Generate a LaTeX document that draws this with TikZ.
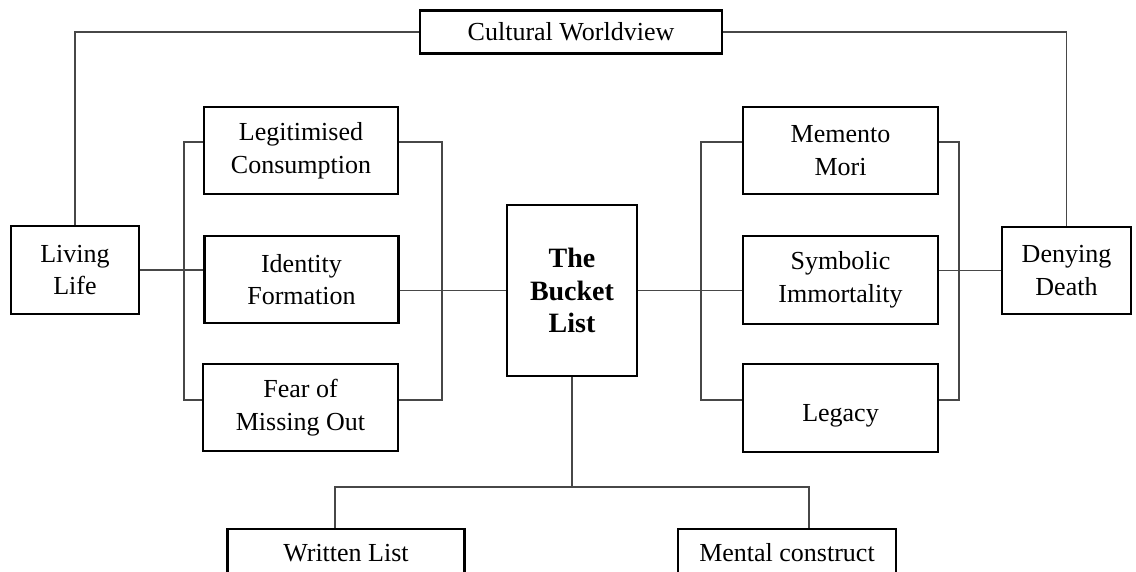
\documentclass[tikz,border=0pt]{standalone}
\usepackage{fontspec}
\setmainfont{Liberation Serif}
\begin{document}
\begin{tikzpicture}[x=1pt,y=-1pt,
  box/.style={draw=black,line width=2.1pt,inner sep=0pt,align=center,
    font=\fontsize{26}{32.5}\selectfont},
  hub/.style={box,font=\fontsize{28}{32.5}\selectfont\bfseries},
  link/.style={draw=black!72,line width=1.1pt}]
\useasboundingbox (0,0) rectangle (1136,572);
\clip (0,0) rectangle (1136,572);

% top
\node[box,minimum width=302pt,minimum height=43pt] (cw) at (571,32) {Cultural Worldview};

% outer concepts
\node[box,minimum width=128pt,minimum height=88pt] (living) at (75,270) {Living\\Life};
\node[box,minimum width=129pt,minimum height=87pt] (deny) at (1066.5,270.5) {Denying\\Death};

% left column
\node[box,minimum width=194pt,minimum height=87pt] (legit) at (301,150.5) {Legitimised\\Consumption};
\node[box,minimum width=194pt,minimum height=87pt] (ident) at (301.5,279.5) {Identity\\Formation};
\node[box,minimum width=195pt,minimum height=87pt] (fear) at (300.5,407.5) {Fear of\\Missing Out};

% centre
\node[hub,minimum width=130pt,minimum height=171pt] (bucket) at (572,290.5) {The\\Bucket\\List};

% right column
\node[box,minimum width=195pt,minimum height=87pt] (memento) at (840.5,150.5) {Memento\\Mori};
\node[box,minimum width=195pt,minimum height=88pt] (symb) at (840.5,280) {Symbolic\\Immortality};
\node[box,minimum width=195pt,minimum height=88pt] (legacy) at (840.5,408) {\mbox{}\\Legacy};

% bottom
\node[box,minimum width=237pt,minimum height=48pt] (written) at (346,553) {Written List};
\node[box,minimum width=218pt,minimum height=48pt] (mental) at (787,553) {Mental construct};

% bracket and junction points
\coordinate (lbt) at (184,142);
\coordinate (lbb) at (184,400);
\coordinate (rbt) at (442,142);
\coordinate (rbb) at (442,400);
\coordinate (slt) at (701,142);
\coordinate (slb) at (701,400);
\coordinate (srt) at (959,142);
\coordinate (srb) at (959,400);
\coordinate (bj) at (572,487);
\coordinate (wj) at (335,487);
\coordinate (mj) at (809,487);

% worldview links
\draw[link] (cw.west) -| (living.north);
\draw[link] (cw.east) -| (deny.north);

% left side
\draw[link] (living.east) -- (living.east -| ident.west);
\draw[link] (lbt -| legit.west) -- (lbt) -- (lbb) -- (lbb -| fear.west);
\draw[link] (rbt -| legit.east) -- (rbt) -- (rbb) -- (rbb -| fear.east);
\draw[link] (bucket.west -| ident.east) -- (bucket.west);

% right side
\draw[link] (bucket.east) -- (bucket.east -| symb.west);
\draw[link] (slt -| memento.west) -- (slt) -- (slb) -- (slb -| legacy.west);
\draw[link] (srt -| memento.east) -- (srt) -- (srb) -- (srb -| legacy.east);
\draw[link] (deny.west -| symb.east) -- (deny.west);

% bottom
\draw[link] (bucket.south) -- (bj);
\draw[link] (wj |- written.north) -- (wj) -- (mj) -- (mj |- mental.north);
\end{tikzpicture}
\end{document}
